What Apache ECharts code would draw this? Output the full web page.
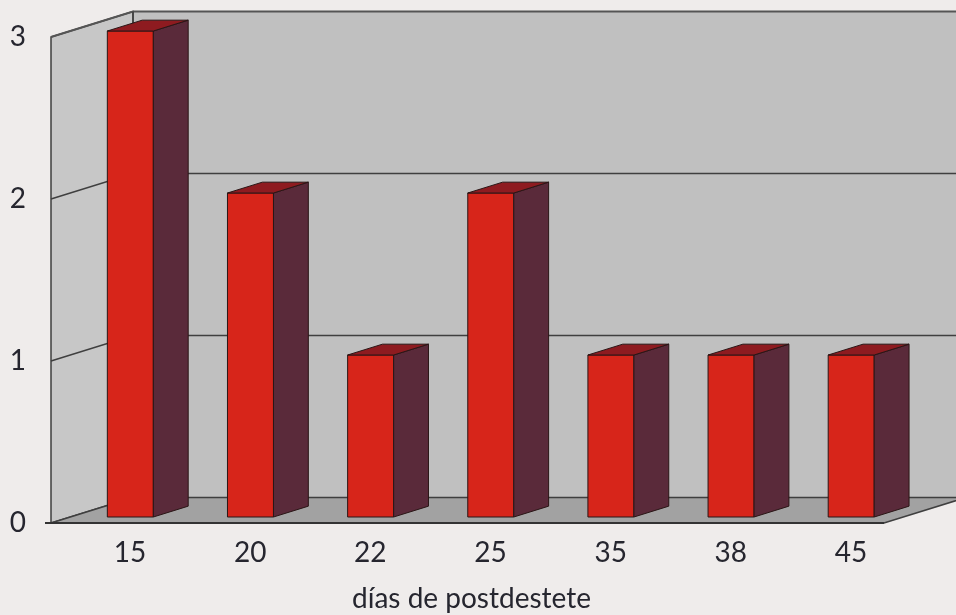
<!DOCTYPE html>
<html>
<head>
<meta charset="utf-8">
<script src="https://cdn.jsdelivr.net/npm/echarts@6/dist/echarts.min.js"></script>
<style>
  html, body { margin: 0; padding: 0; background: #efeceb; }
  #chart { width: 956px; height: 615px; }
</style>
</head>
<body>
<div id="chart"></div>
<script>
// data
const days = ["15", "20", "22", "25", "35", "38", "45"]
const counts = [3, 2, 1, 2, 1, 1, 1]
const yTicks = [0, 1, 2, 3]

// fake perspective: full depth of the box, and where the bars sit in it
const DEPTH = [82, -25.5]
const BAR_FRONT = 0.235
const BAR_BACK = 0.66
const BAR_HALF = 23

const shift = (p, d) => [p[0] + DEPTH[0] * d, p[1] + DEPTH[1] * d]
const edge = "#3f3f3f"

function renderFrame(params, api) {
  const cs = params.coordSys
  const x0 = cs.x
  const x1 = cs.x + cs.width - 8
  const yb = cs.y + cs.height
  const yt = cs.y
  const children = []
  // back wall
  const bTL = shift([x0, yt], 1)
  const bBL = shift([x0, yb], 1)
  children.push({
    type: "polygon",
    shape: { points: [bTL, [1000, bTL[1]], [1000, bBL[1]], bBL] },
    style: { fill: "#c0c0c0", stroke: null }
  })
  // left wall
  children.push({
    type: "polygon",
    shape: { points: [[x0, yt], bTL, bBL, [x0, yb]] },
    style: { fill: "#c7c7c7", stroke: edge, lineWidth: 1.5 }
  })
  // grid lines on both walls
  yTicks.forEach((v) => {
    if (v === 0) return
    const y = api.coord([0, v])[1]
    const b = shift([x0, y], 1)
    children.push({
      type: "polyline",
      shape: { points: [[x0, y], b, [1000, b[1]]] },
      style: { stroke: v === 3 ? "#555" : edge, lineWidth: v === 3 ? 2 : 1.5, fill: null }
    })
  })
  // floor
  children.push({
    type: "polygon",
    shape: { points: [[x0, yb], [x1, yb], shift([x1, yb], 1), bBL] },
    style: { fill: "#a2a2a2", stroke: edge, lineWidth: 1.5 }
  })
  children.push({
    type: "line",
    shape: { x1: x0 - 6, y1: yb, x2: x1, y2: yb },
    style: { stroke: "#333", lineWidth: 2 }
  })
  // back edge of the left wall
  children.push({
    type: "line",
    shape: { x1: bTL[0], y1: bTL[1], x2: bBL[0], y2: bBL[1] },
    style: { stroke: edge, lineWidth: 1.5 }
  })
  return { type: "group", children }
}

function renderBar(params, api) {
  const i = api.value(0)
  const top = api.coord([i, api.value(1)])
  const base = api.coord([i, 0])
  const fl = shift([top[0] - BAR_HALF, top[1]], BAR_FRONT)
  const fr = shift([top[0] + BAR_HALF, top[1]], BAR_FRONT)
  const flb = shift([base[0] - BAR_HALF, base[1]], BAR_FRONT)
  const frb = shift([base[0] + BAR_HALF, base[1]], BAR_FRONT)
  const bl = shift([top[0] - BAR_HALF, top[1]], BAR_BACK)
  const br = shift([top[0] + BAR_HALF, top[1]], BAR_BACK)
  const brb = shift([base[0] + BAR_HALF, base[1]], BAR_BACK)
  const line = { stroke: "#2a1616", lineWidth: 1 }
  return {
    type: "group",
    children: [
      { type: "polygon", shape: { points: [fl, fr, frb, flb] }, style: { fill: "#d7251a", ...line } },
      { type: "polygon", shape: { points: [fr, br, brb, frb] }, style: { fill: "#5a2a3a", ...line } },
      { type: "polygon", shape: { points: [fl, bl, br, fr] }, style: { fill: "#8e1b20", ...line } }
    ]
  }
}

const chart = echarts.init(document.getElementById("chart"))
chart.setOption({
  backgroundColor: "#efeceb",
  animation: false,
  grid: { left: 51, right: 64, top: 37, bottom: 92, outerBoundsMode: "none", containLabel: false },
  xAxis: {
    type: "category",
    data: days,
    axisLine: { show: false },
    axisTick: { show: false },
    axisLabel: {
      margin: 16,
      padding: [0, 0, 0, 38],
      fontFamily: "Lato",
      fontSize: 28,
      color: "#26262f"
    },
    name: "días de postdestete",
    nameLocation: "middle",
    nameGap: 62,
    nameTextStyle: { fontFamily: "Lato", fontSize: 28, color: "#26262f" }
  },
  yAxis: {
    type: "value",
    min: 0,
    max: 3,
    interval: 1,
    axisLine: { show: false },
    axisTick: { show: false },
    splitLine: { show: false },
    axisLabel: {
      margin: 25,
      fontFamily: "Lato",
      fontSize: 28,
      color: "#26262f"
    }
  },
  series: [
    {
      type: "custom",
      renderItem: renderFrame,
      data: [[0, 0]],
      silent: true,
      z: 1
    },
    {
      type: "custom",
      renderItem: renderBar,
      data: counts.map((v, i) => [i, v]),
      z: 2
    }
  ]
})
</script>
</body>
</html>
